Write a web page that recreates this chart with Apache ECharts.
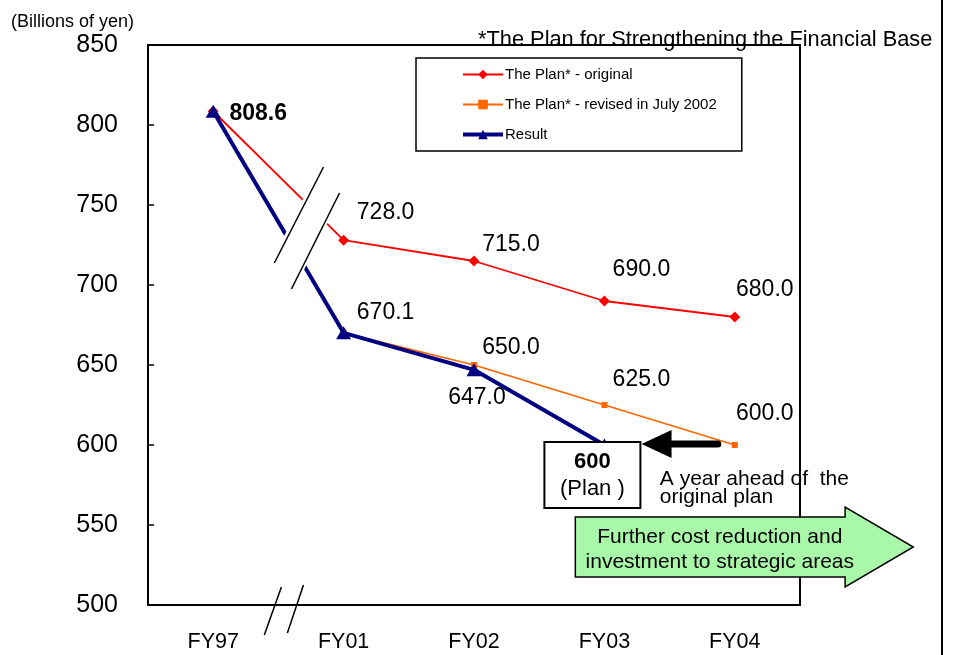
<!DOCTYPE html>
<html><head><meta charset="utf-8">
<script src="https://cdn.jsdelivr.net/npm/echarts@6/dist/echarts.min.js"></script>
<style>html,body{margin:0;padding:0;background:#fff}#c{width:953px;height:655px}</style>
</head><body><div id="c"></div>
<script>
// ---- data ----
const categories = ['FY97', 'FY01', 'FY02', 'FY03', 'FY04'];
const planOriginal = [808.6, 728.0, 715.0, 690.0, 680.0];
const planRevised = [null, 670.1, 650.0, 625.0, 600.0];
const result = [808.6, 670.1, 647.0, 600.0, null];
const yMin = 500, yMax = 850, yStep = 50;
const seriesNames = ['The Plan* - original', 'The Plan* - revised in July 2002', 'Result'];
const unitText = '(Billions of yen)';
const noteText = '*The Plan for Strengthening the Financial Base';
const aheadText = 'A year ahead of  the\noriginal plan';
const arrowText = 'Further cost reduction and\ninvestment to strategic areas';
const planBoxValue = '600';
const planBoxWord = '(Plan )';

// ---- layout (label offsets from point centre) ----
const FONT = 'Liberation Sans, Arial, sans-serif';
const redOffsets = [null, [42, -28], [37, -16], [37, -31], [30, -27]];
const orangeOffsets = [null, null, [37, -17], [37, -25], [30, -31]];
const blueOffsets = [[45, 2], [42, -20], [3, 28], [-12, 30], null];

function lbl(off, extra) {
  if (!off) return { show: false };
  return Object.assign({
    show: true, position: 'inside', offset: off, color: '#000',
    fontFamily: FONT, fontSize: 23, align: 'center', verticalAlign: 'middle'
  }, extra || {});
}

const chart = echarts.init(document.getElementById('c'));

const redData = planOriginal.map((v, i) => ({ value: v, label: lbl(redOffsets[i]) }));
const orangeData = planRevised.map((v, i) => ({ value: v, label: lbl(orangeOffsets[i]) }));
const blueData = result.map((v, i) => {
  let extra = {};
  if (i === 0) extra = { fontWeight: 'bold' };
  if (i === 3) extra = {
    formatter: '{a|' + planBoxValue + '}\n{b|' + planBoxWord + '}',
    backgroundColor: '#fff', borderColor: '#000', borderWidth: 2,
    width: 94, padding: [5, 0, 5, 0],
    rich: {
      a: { fontFamily: FONT, fontSize: 22, fontWeight: 'bold', lineHeight: 27, align: 'center' },
      b: { fontFamily: FONT, fontSize: 22, lineHeight: 27, align: 'center' }
    }
  };
  return { value: v, label: lbl(blueOffsets[i], extra) };
});

const valueFmt = p => (p.value == null ? '' : Number(p.value).toFixed(1));

const option = {
  animation: false,
  backgroundColor: '#fff',
  textStyle: { fontFamily: FONT },
  title: [
    { text: unitText, left: 6, top: 8, textStyle: { fontFamily: FONT, fontSize: 18, fontWeight: 'normal', color: '#000' } },
    { text: noteText, left: 473, top: 24, textStyle: { fontFamily: FONT, fontSize: 21.8, fontWeight: 'normal', color: '#000' } }
  ],
  legend: {
    orient: 'vertical', left: 416, top: 58,
    padding: [9, 25, 9, 45], itemGap: 15, itemWidth: 40, itemHeight: 12,
    borderColor: '#000', borderWidth: 1.5, backgroundColor: '#fff',
    textStyle: { fontFamily: FONT, fontSize: 15, color: '#000', padding: [0, 0, 0, -3] },
    data: [
      { name: seriesNames[0] },
      { name: seriesNames[1] },
      { name: seriesNames[2], lineStyle: { width: 4 } }
    ]
  },
  grid: { left: 148, right: 153, top: 45, bottom: 50, show: true, borderColor: '#000', borderWidth: 2 },
  xAxis: {
    type: 'category', data: categories, boundaryGap: true,
    axisLine: { lineStyle: { color: '#000', width: 2 } },
    axisTick: { inside: true, length: 6, lineStyle: { color: '#000', width: 1.5 } },
    axisLabel: { margin: 26, fontFamily: FONT, fontSize: 21.5, color: '#000' },
    splitLine: { show: false }
  },
  yAxis: {
    type: 'value', min: yMin, max: yMax, interval: yStep,
    axisLine: { show: true, lineStyle: { color: '#000', width: 2 } },
    axisTick: { show: true, inside: true, length: 6, lineStyle: { color: '#000', width: 1.5 } },
    axisLabel: { margin: 30, fontFamily: FONT, fontSize: 25, color: '#000' },
    splitLine: { show: false }
  },
  series: [
    {
      name: seriesNames[0], type: 'line', data: redData,
      symbol: 'diamond', symbolSize: 11,
      lineStyle: { color: '#ff0000', width: 1.8 }, itemStyle: { color: '#ff0000' },
      label: { formatter: valueFmt }, z: 2
    },
    {
      name: seriesNames[1], type: 'line', data: orangeData,
      symbol: 'rect', symbolSize: 6,
      lineStyle: { color: '#ff6600', width: 1.8 }, itemStyle: { color: '#ff6600' },
      label: { formatter: valueFmt }, z: 3
    },
    {
      name: seriesNames[2], type: 'line', data: blueData,
      symbol: 'triangle', symbolSize: [15, 13],
      lineStyle: { color: '#000080', width: 4 }, itemStyle: { color: '#000080' },
      label: { formatter: valueFmt }, z: 4
    }
  ]
};
chart.setOption(option);

// ---- annotations anchored to the axes ----
function P(c, v) {
  const a = chart.convertToPixel({ xAxisIndex: 0, yAxisIndex: 0 }, [0, v]);
  const b = chart.convertToPixel({ xAxisIndex: 0, yAxisIndex: 0 }, [1, v]);
  return [a[0] + (b[0] - a[0]) * c, a[1]];
}
const pts = arr => arr.map(p => P(p[0], p[1]));
const seg = (p1, p2, w) => {
  const a = P(p1[0], p1[1]), b = P(p2[0], p2[1]);
  return { type: 'line', z: 60, shape: { x1: a[0], y1: a[1], x2: b[0], y2: b[1] }, style: { stroke: '#000', lineWidth: w } };
};
const tip = P(3.285, 600.6), headBase = P(3.515, 600.6), tail = P(3.87, 600.6);
const aheadPos = P(3.425, 584.5);
const arrowCenter = P(3.885, 534.5);

const graphics = [
  // axis break band and slashes
  { type: 'polygon', z: 50, shape: { points: pts([[0.438, 713.75], [0.815, 773.75], [0.992, 757.5], [0.623, 697.5]]) }, style: { fill: '#fff' } },
  seg([0.469, 713.75], [0.846, 773.75], 1.5),
  seg([0.6, 697.5], [0.969, 757.5], 1.5),
  seg([0.392, 481.25], [0.523, 511.25], 1.5),
  seg([0.569, 482.5], [0.692, 512.5], 1.5),
  // black arrow
  { type: 'line', z: 60, shape: { x1: headBase[0] - 2, y1: tip[1], x2: tail[0], y2: tip[1] }, style: { stroke: '#000', lineWidth: 7, lineCap: 'round' } },
  { type: 'polygon', z: 60, shape: { points: [[tip[0], tip[1]], [headBase[0], tip[1] - 14], [headBase[0], tip[1] + 14]] }, style: { fill: '#000' } },
  { type: 'text', z: 60, x: aheadPos[0], y: aheadPos[1], style: { text: aheadText, fontFamily: FONT, fontSize: 21, lineHeight: 18, fill: '#000', textAlign: 'left', textVerticalAlign: 'top' } },
  // green arrow
  { type: 'polygon', z: 60, shape: { points: pts([[2.777, 555], [4.846, 555], [4.846, 561.25], [5.369, 536.25], [4.846, 511.25], [4.846, 517.5], [2.777, 517.5]]) },
    style: { fill: '#a9f8a9', stroke: '#000', lineWidth: 1.5 } },
  { type: 'text', z: 61, x: arrowCenter[0], y: arrowCenter[1], style: { text: arrowText, fontFamily: FONT, fontSize: 21, lineHeight: 25, fill: '#000', textAlign: 'center', textVerticalAlign: 'middle' } },
  // right frame line
  { type: 'line', z: 60, shape: { x1: 942, y1: 0, x2: 942, y2: 655 }, style: { stroke: '#000', lineWidth: 2 } }
];
chart.setOption({ graphic: graphics });
</script>
</body></html>
